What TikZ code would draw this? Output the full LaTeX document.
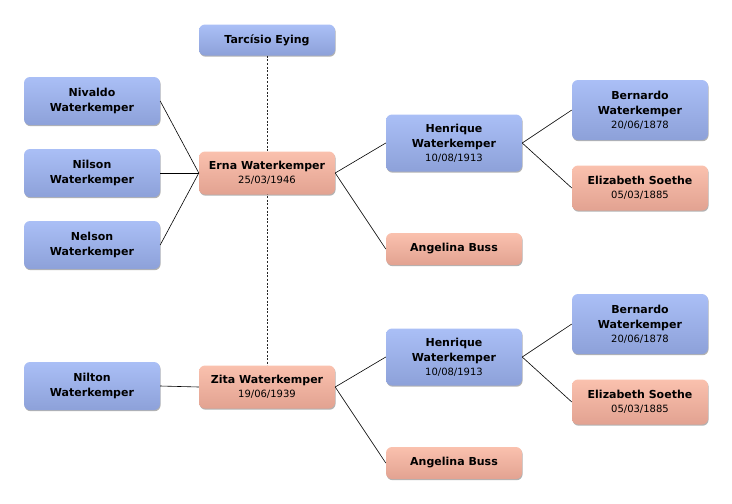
\documentclass[tikz,border=0pt]{standalone}
\usepackage{fontspec}
\setmainfont{DejaVu Sans}
\usepackage{xcolor}
\usepackage{tikz}
\usetikzlibrary{shadows,backgrounds}

\definecolor{maleTop}{RGB}{170,191,246}
\definecolor{maleBot}{RGB}{141,161,217}
\definecolor{femTop}{RGB}{250,193,174}
\definecolor{femBot}{RGB}{226,162,145}

\newcommand{\born}[1]{\\[-1pt]{\mdseries\fontsize{10}{11.5}\selectfont #1}}

\begin{document}
\begin{tikzpicture}[x=1pt, y=-1pt,
  person/.style={rounded corners=6pt, minimum width=136pt, align=center,
    inner ysep=4pt, font=\bfseries\fontsize{11}{15}\selectfont,
    drop shadow={shadow xshift=0.6pt, shadow yshift=-1.2pt, opacity=0.3, fill=black}},
  male/.style={person, top color=maleTop, bottom color=maleBot},
  female/.style={person, top color=femTop, bottom color=femBot},
  link/.style={black, line width=0.6pt}]
  \useasboundingbox (0,0) rectangle (732,504);

  % spouses
  \node[male, minimum height=31pt] (tarcisio) at (267,40) {Tarcísio Eying};
  \node[female, minimum height=43pt] (erna) at (267,173) {Erna Waterkemper\born{25/03/1946}};
  \node[female, minimum height=43pt] (zita) at (267,387) {Zita Waterkemper\born{19/06/1939}};
  \begin{scope}[on background layer]
    \draw[black!85, line width=0.9pt, dash pattern=on 2pt off 1.6pt] (tarcisio.south) -- (zita.north);
  \end{scope}

  % children
  \foreach \n/\y/\t in {nivaldo/101/Nivaldo, nilson/173/Nilson, nelson/245/Nelson} {
    \node[male, minimum height=48pt] (\n) at (92,\y) {\t\\Waterkemper};
    \draw[link] (\n.east) -- (erna.west);
  }
  \node[male, minimum height=48pt] (nilton) at (92,386) {Nilton\\Waterkemper};
  \draw[link] (nilton.east) -- (zita.west);

  % parents and grandparents
  \foreach \s/\m/\dy in {A/erna/0, B/zita/214} {
    \node[male, minimum height=57pt] (hen\s) at (454,143+\dy) {Henrique\\Waterkemper\born{10/08/1913}};
    \node[female, minimum height=32pt] (ang\s) at (454,249+\dy) {Angelina Buss};
    \node[male, minimum height=60pt] (bern\s) at (640,110+\dy) {Bernardo\\Waterkemper\born{20/06/1878}};
    \node[female, minimum height=45pt] (eliz\s) at (640,188+\dy) {Elizabeth Soethe\born{05/03/1885}};
    \draw[link] (\m.east) -- (hen\s.west);
    \draw[link] (\m.east) -- (ang\s.west);
    \draw[link] (hen\s.east) -- (bern\s.west);
    \draw[link] (hen\s.east) -- (eliz\s.west);
  }
\end{tikzpicture}
\end{document}
